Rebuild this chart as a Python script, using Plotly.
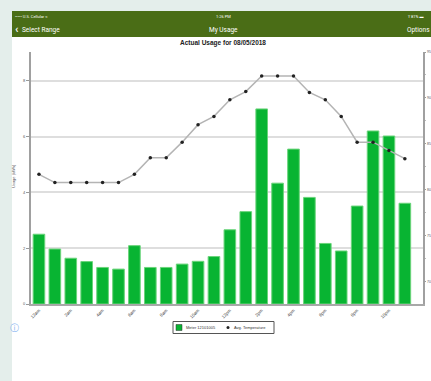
import plotly.graph_objects as go

# ---- data ----
hours = ["12am", "1am", "2am", "3am", "4am", "5am", "6am", "7am", "8am", "9am", "10am", "11am",
         "12pm", "1pm", "2pm", "3pm", "4pm", "5pm", "6pm", "7pm", "8pm", "9pm", "10pm", "11pm"]
usage_kwh = [2.50, 1.97, 1.64, 1.52, 1.31, 1.25, 2.09, 1.31, 1.31, 1.43, 1.53, 1.70,
             2.66, 3.31, 6.99, 4.33, 5.55, 3.82, 2.17, 1.90, 3.51, 6.20, 6.02, 3.61]
avg_temp = [81.7, 80.8, 80.8, 80.8, 80.8, 80.8, 81.7, 83.5, 83.5, 85.2, 87.1, 88.0,
            89.8, 90.7, 92.4, 92.4, 92.4, 90.6, 89.8, 88.0, 85.2, 85.2, 84.3, 83.4]
usage_ticks = [0, 2, 4, 6, 8]
temp_ticks = [70, 75, 80, 85, 90, 95]
tick_hours = hours[::2]
series_names = ["Meter 12101005", "Avg. Temperature"]

# ---- geometry helpers (pixel -> paper) ----
W, H = 431, 381
ML, MR, MT, MB = 31, 8, 52, 77
PW, PH = W - ML - MR, H - MT - MB


def px(x):
    return (x - ML) / PW


def py(y):
    return (H - MB - y) / PH


BAR_GREEN = "#08b432"

fig = go.Figure()
fig.add_trace(go.Bar(
    x=hours, y=usage_kwh, name=series_names[0],
    marker=dict(color=BAR_GREEN, line=dict(color="#6ad47a", width=1)),
    width=0.73, showlegend=False,
))
fig.add_trace(go.Scatter(
    x=hours, y=avg_temp, name=series_names[1], yaxis="y2",
    mode="lines+markers",
    line=dict(color="#b4b4b4", width=1.5),
    marker=dict(color="#222222", size=3.5),
    showlegend=False,
))

shapes = [
    # page background strips
    dict(type="rect", xref="paper", yref="paper", x0=px(0), x1=px(W), y0=py(0), y1=py(11),
         fillcolor="#e4eeeb", line=dict(width=0), layer="below"),
    dict(type="rect", xref="paper", yref="paper", x0=px(0), x1=px(12), y0=py(0), y1=py(H),
         fillcolor="#e4eeeb", line=dict(width=0), layer="below"),
    # green header
    dict(type="rect", xref="paper", yref="paper", x0=px(12), x1=px(W), y0=py(11), y1=py(37),
         fillcolor="#4a6d16", line=dict(width=0), layer="below"),
    # legend box
    dict(type="rect", xref="paper", yref="paper", x0=px(173), x1=px(274), y0=py(321.5), y1=py(333.5),
         fillcolor="white", line=dict(color="#555", width=1)),
    # legend swatch (bar)
    dict(type="rect", xref="paper", yref="paper", x0=px(176), x1=px(182), y0=py(324.5), y1=py(330.5),
         fillcolor=BAR_GREEN, line=dict(color="#333", width=0.5)),
    # legend swatch (dot)
    dict(type="circle", xref="paper", yref="paper", x0=px(226.5), x1=px(229.5), y0=py(326), y1=py(329),
         fillcolor="#222", line=dict(width=0)),
]

hdr_font = dict(family="Roboto, Arial, sans-serif", color="white")
annotations = [
    dict(text="••••• U.S. Cellular ≈", x=px(13), y=py(16), xanchor="left", yanchor="middle",
         font=dict(size=4, **hdr_font)),
    dict(text="1:26 PM", x=px(223), y=py(16), xanchor="center", yanchor="middle",
         font=dict(size=4, **hdr_font)),
    dict(text="¥ 81% ▬", x=px(406), y=py(16), xanchor="left", yanchor="middle",
         font=dict(size=4, **hdr_font)),
    dict(text="<b>‹</b>", x=px(13), y=py(29), xanchor="left", yanchor="middle",
         font=dict(size=11, **hdr_font)),
    dict(text="Select Range", x=px(20), y=py(29.5), xanchor="left", yanchor="middle",
         font=dict(size=6.5, **hdr_font)),
    dict(text="My Usage", x=px(223), y=py(29.5), xanchor="center", yanchor="middle",
         font=dict(size=6.5, **hdr_font)),
    dict(text="Options", x=px(405), y=py(29.5), xanchor="left", yanchor="middle",
         font=dict(size=6.5, **hdr_font)),
    dict(text="<b>Actual Usage for 08/05/2018</b>", x=px(223), y=py(43), xanchor="center",
         yanchor="middle", font=dict(size=6.5, color="#222", family="Arial, sans-serif")),
    dict(text="Usage (kWh)", x=px(13), y=py(176), xanchor="center", yanchor="middle",
         textangle=-90, font=dict(size=4, color="#555", family="Arial, sans-serif")),
    dict(text="ⓘ", x=px(14.5), y=py(328), xanchor="center", yanchor="middle",
         font=dict(size=9, color="#7fb2f0", family="DejaVu Sans")),
    # legend labels
    dict(text=series_names[0], x=px(184), y=py(327.5), xanchor="left", yanchor="middle",
         font=dict(size=4, color="#333", family="Arial, sans-serif")),
    dict(text=series_names[1], x=px(232), y=py(327.5), xanchor="left", yanchor="middle",
         font=dict(size=4, color="#333", family="Arial, sans-serif")),
]
for a in annotations:
    a.update(xref="paper", yref="paper", showarrow=False)

fig.update_layout(
    width=W, height=H,
    margin=dict(l=ML, r=MR, t=MT, b=MB, pad=0, autoexpand=False),
    paper_bgcolor="white", plot_bgcolor="white",
    showlegend=False,
    xaxis=dict(
        type="category", range=[-0.5, 24.14], automargin=False,
        tickmode="array", tickvals=tick_hours, ticktext=tick_hours,
        tickangle=-45, tickfont=dict(size=4.5, color="#444", family="Arial, sans-serif"),
        showline=True, linecolor="#a8a8a8", linewidth=2,
        ticks="", showgrid=False,
    ),
    yaxis=dict(
        range=[0, 9.03], automargin=False,
        tickmode="array", tickvals=usage_ticks, ticktext=[str(v) for v in usage_ticks],
        showline=True, linecolor="#a0a0a0", linewidth=2,
        gridcolor="#dedede", gridwidth=1.5,
        ticks="outside", ticklen=3, tickcolor="#999",
        tickfont=dict(size=4, color="#555", family="Arial, sans-serif"),
        zeroline=False,
    ),
    yaxis2=dict(
        overlaying="y", side="right", range=[67.6, 95.0], automargin=False,
        tickmode="array", tickvals=temp_ticks, ticktext=[str(v) for v in temp_ticks],
        showline=True, linecolor="#a0a0a0", linewidth=1.5,
        showgrid=False, zeroline=False,
        ticks="outside", ticklen=1.5, tickcolor="#999",
        minor=dict(ticks="outside", ticklen=1.5, tickcolor="#bbb", dtick=2.5),
        tickfont=dict(size=3.5, color="#555", family="Arial, sans-serif"),
    ),
    shapes=shapes,
    annotations=annotations,
)

fig.write_html("out.html")
